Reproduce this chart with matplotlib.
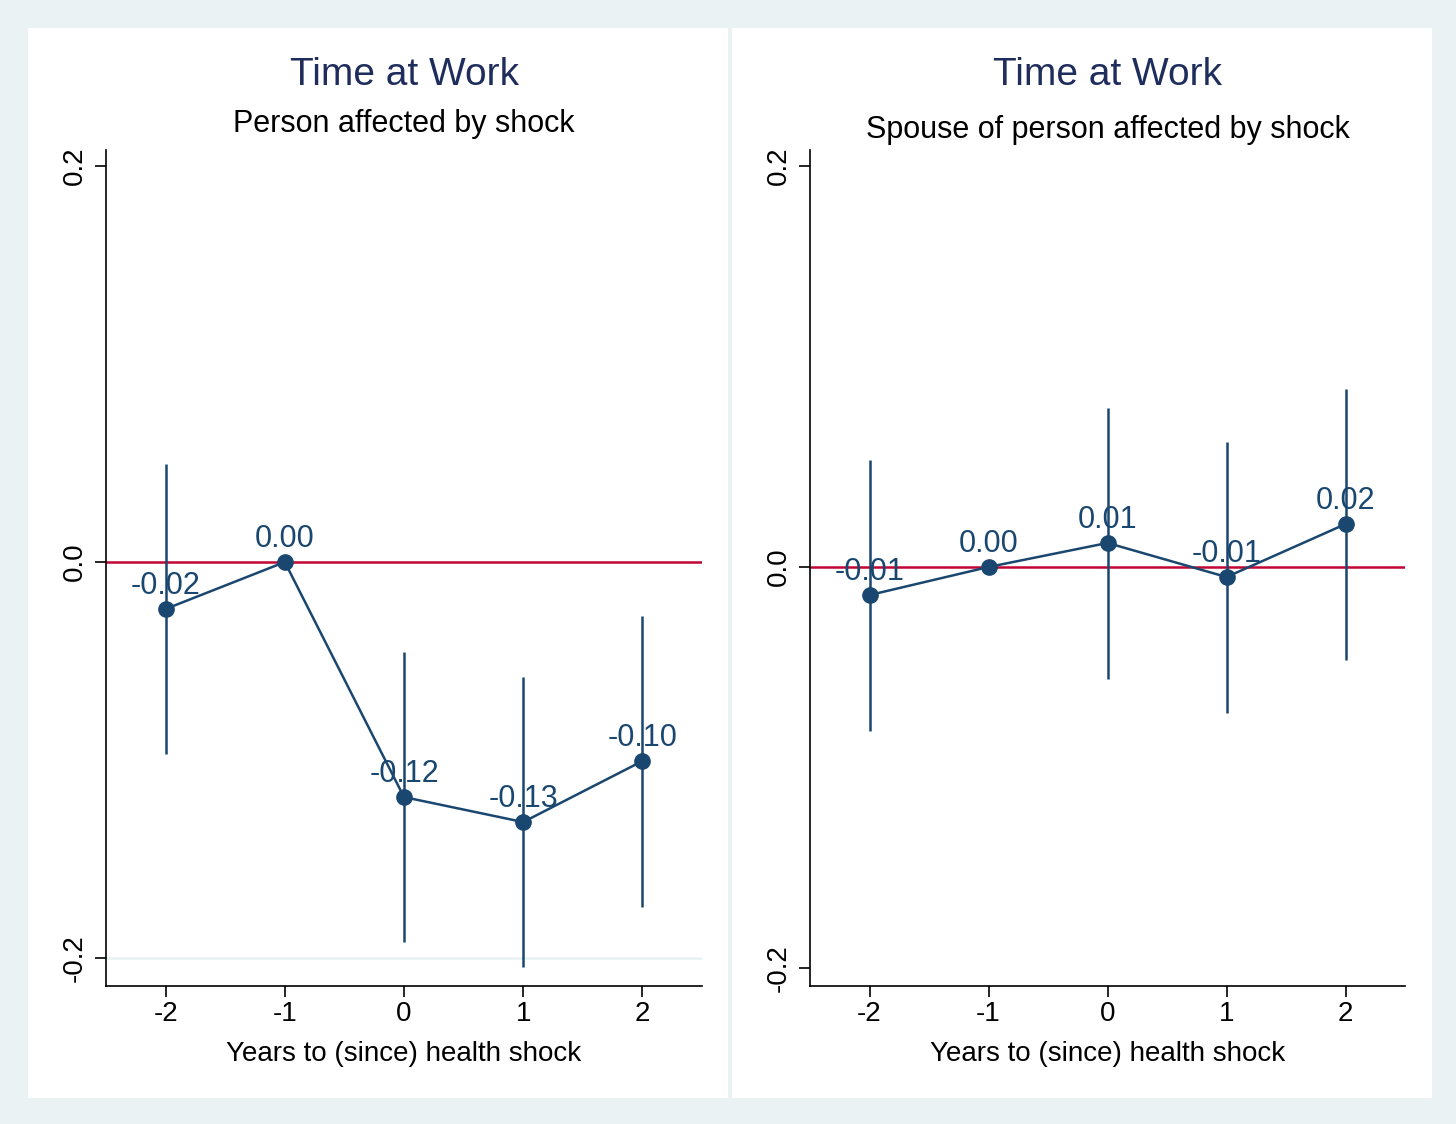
import matplotlib
matplotlib.use("Agg")
import matplotlib.pyplot as plt
from matplotlib.patches import Rectangle

plt.rcParams['font.family'] = ['Liberation Sans', 'DejaVu Sans']
plt.rcParams['axes.unicode_minus'] = False

# data
years = [-2, -1, 0, 1, 2]

own_coef = [-0.0237, 0.0, -0.1187, -0.1313, -0.1005]
own_hi = [0.0495, 0.0, -0.0455, -0.0581, -0.0273]
own_lo = [-0.097, 0.0, -0.192, -0.2045, -0.1742]
own_labels = ['-0.02', '0.00', '-0.12', '-0.13', '-0.10']

sp_coef = [-0.014, 0.0, 0.012, -0.005, 0.0214]
sp_hi = [0.0534, 0.0, 0.0793, 0.0623, 0.0888]
sp_lo = [-0.0818, 0.0, -0.0559, -0.0728, -0.0464]
sp_labels = ['-0.01', '0.00', '0.01', '-0.01', '0.02']

yticks = [-0.2, 0.0, 0.2]
ytick_labels = ['-0.2', '0.0', '0.2']

BG = '#eaf2f3'
NAVY = '#1a476f'
RED = '#c10534'
TITLE = '#1f2d5c'

W, H = 1456, 1124
fig = plt.figure(figsize=(W / 100, H / 100), dpi=100, facecolor=BG)

# white panels
for x0, x1 in [(28, 728), (732, 1432)]:
    fig.patches.append(Rectangle((x0 / W, 1 - 1098 / H), (x1 - x0) / W, 1070 / H,
                                 transform=fig.transFigure, facecolor='white',
                                 edgecolor='none', zorder=-5))


def panel(left_px, right_px, coef, hi, lo, labels, ylim, subtitle, sub_y, grid):
    ax = fig.add_axes([left_px / W, 1 - 986 / H, (right_px - left_px) / W, 836 / H])
    ax.set_facecolor('white')
    ax.set_xlim(-2.5, 2.5)
    ax.set_ylim(*ylim)
    if grid:
        ax.axhline(-0.2, color=BG, lw=2, zorder=1)
    ax.axhline(0, color=RED, lw=1.8, zorder=2)
    ax.vlines(years, lo, hi, color=NAVY, lw=1.8, zorder=3)
    ax.plot(years, coef, color=NAVY, lw=1.8, marker='o', ms=11, zorder=4)
    for x, y, t in zip(years, coef, labels):
        ax.annotate(t, (x, y), xytext=(0, 11), textcoords='offset points',
                    ha='center', va='baseline', fontsize=22, color=NAVY, zorder=5)
    for s in ['top', 'right']:
        ax.spines[s].set_visible(False)
    for s in ['left', 'bottom']:
        ax.spines[s].set_linewidth(1.2)
    ax.set_xticks(years)
    ax.set_xticklabels([str(y) for y in years])
    ax.set_yticks(yticks)
    ax.set_yticklabels(ytick_labels, rotation=90, va='center')
    ax.tick_params(length=8, width=1.2, labelsize=20, pad=5)
    ax.tick_params(axis='x', pad=3)
    ax.set_xlabel('Years to (since) health shock', fontsize=20, labelpad=10)
    cx = (left_px + right_px) / 2 / W
    fig.text(cx, 1 - 75 / H, 'Time at Work', ha='center', va='center',
             fontsize=28, color=TITLE)
    fig.text(cx, 1 - sub_y / H, subtitle, ha='center', va='center',
             fontsize=22, color='black')
    return ax


panel(106, 702, own_coef, own_hi, own_lo, own_labels, (-0.2141, 0.2081),
      'Person affected by shock', 124, True)
panel(810, 1405, sp_coef, sp_hi, sp_lo, sp_labels, (-0.209, 0.208),
      'Spouse of person affected by shock', 130, False)

fig.savefig('out.png', dpi=100, facecolor=BG)
